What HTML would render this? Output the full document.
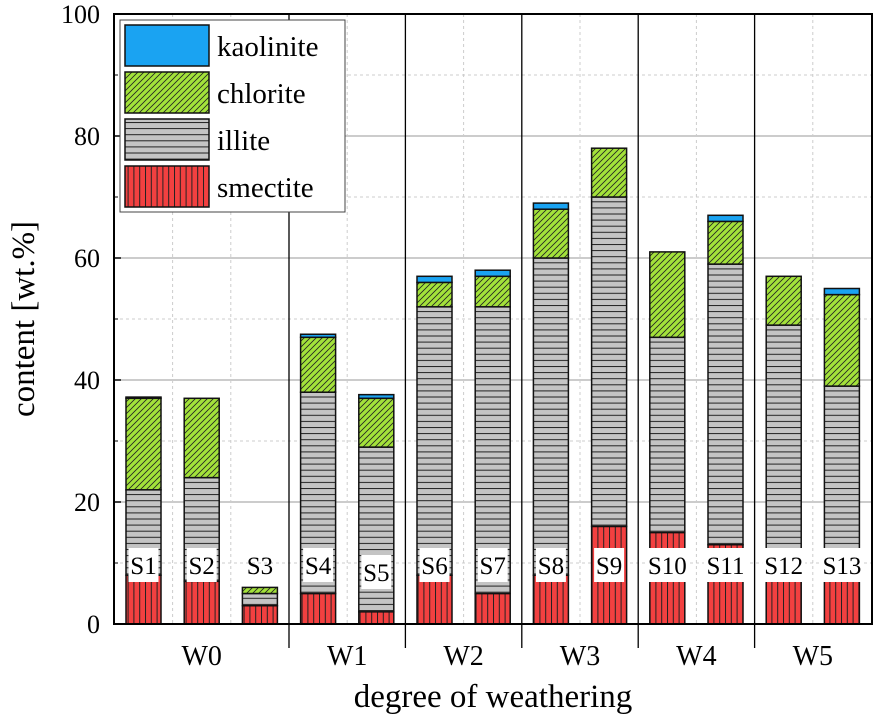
<!DOCTYPE html>
<html><head><meta charset="utf-8"><style>
html,body{margin:0;padding:0;background:#fff;}
svg text{font-family:"Liberation Serif",serif;fill:#000;}
</style></head><body>
<svg id="c" width="873" height="720" xmlns="http://www.w3.org/2000/svg">
<defs>
<pattern id="pI" width="8" height="6.1" patternUnits="userSpaceOnUse"><rect width="8" height="6.1" fill="#c4c4c4"/><line x1="0" y1="0.5" x2="8" y2="0.5" stroke="#222" stroke-width="1"/></pattern>
<pattern id="pS" width="5.8" height="8" patternUnits="userSpaceOnUse"><rect width="5.8" height="8" fill="#f24040"/><line x1="0.5" y1="0" x2="0.5" y2="8" stroke="#222" stroke-width="1"/></pattern>
<pattern id="pC" width="6" height="6" patternUnits="userSpaceOnUse"><rect width="6" height="6" fill="#a3e23a"/><path d="M0,6 L6,0 M-1,1 L1,-1 M5,7 L7,5" stroke="#222" stroke-width="0.8"/></pattern>
</defs>
<g id="grid"></g><g id="bars"></g><g id="labels"></g><g id="axes"></g>
</svg>
<script>
const samples=["S1","S2","S3","S4","S5","S6","S7","S8","S9","S10","S11","S12","S13"];
const smectite=[8,7,3,5,2,8,5,8,16,15,13,12,12];
const illite=[14,17,2,33,27,44,47,52,54,32,46,37,27];
const chlorite=[15,13,1,9,8,4,5,8,8,14,7,8,15];
const kaolinite=[0.2,0,0,0.5,0.6,1,1,1,0,0,1,0,1];
const groups=["W0","W1","W2","W3","W4","W5"];
const groupCounts=[3,2,2,2,2,2];
const yTicks=[0,20,40,60,80,100];
const labelOffsets=[0,0,0,0,7,0,0,0,0,0,0,0,0];

const svg=document.getElementById('c');
const NS="http://www.w3.org/2000/svg";
const L=114,R=872,T=14,B=624;
const y=v=>B-(v/100)*(B-T);
const xc=i=>143.5+i*58.2;
const BW=35;
function mk(tag,attrs,parent,name,txt){const e=document.createElementNS(NS,tag);for(const k in attrs)e.setAttribute(k,attrs[k]);


if(txt!==undefined)e.textContent=txt;document.getElementById(parent).appendChild(e);return e;}

for(let v=10;v<100;v+=10){
 const major=v%20===0;
 mk('line',{x1:L,x2:R,y1:y(v),y2:y(v),stroke:major?'#999':'#ccc','stroke-width':1,'stroke-dasharray':major?'':'3,3'},'grid','gridline-y');
}
let idx=0;const seps=[];
groupCounts.forEach((n,g)=>{for(let k=0;k<n-1;k++){const xm=(xc(idx+k)+xc(idx+k+1))/2;
 mk('line',{x1:xm,x2:xm,y1:T,y2:B,stroke:'#ccc','stroke-width':1,'stroke-dasharray':'3,3'},'grid','gridline-x');}
 idx+=n; if(g<groupCounts.length-1) seps.push((xc(idx-1)+xc(idx))/2);});
seps.forEach(s=>{mk('line',{x1:s,x2:s,y1:T,y2:648,stroke:'#000','stroke-width':1.3},'grid','group-separator');});

samples.forEach((s,i)=>{
 let base=0;const x=xc(i)-BW/2;
 [[smectite,'url(#pS)','smectite'],[illite,'url(#pI)','illite'],[chlorite,'url(#pC)','chlorite'],[kaolinite,'#1aa3f2','kaolinite']].forEach(([arr,fill,nm])=>{
  const v=arr[i];if(v<=0)return;
  mk('rect',{x:x,y:y(base+v),width:BW,height:y(base)-y(base+v),fill:fill,stroke:'#111','stroke-width':1.5},'bars','bar-'+nm+'-'+s.toLowerCase());
  base+=v;});
 const ly=565+labelOffsets[i];
 const w=s.length*13+4;
 if(s!=="S3") mk('rect',{x:xc(i)-w/2,y:ly-17,width:w,height:34,fill:'#fff'},'labels','label-bg-'+s.toLowerCase());
 mk('text',{x:xc(i),y:ly+9,'text-anchor':'middle','font-size':25},'labels','sample-label-'+s.toLowerCase(),s);
});

mk('rect',{x:L,y:T,width:R-L,height:B-T,fill:'none',stroke:'#000','stroke-width':2},'axes','plot-frame');
yTicks.forEach(v=>{
 mk('line',{x1:L,x2:L+7,y1:y(v),y2:y(v),stroke:'#000','stroke-width':1.5},'axes','y-tick');
 mk('text',{x:100,y:y(v)+9,'text-anchor':'end','font-size':26},'axes','y-tick-label',String(v));
});
for(let v=10;v<100;v+=20) mk('line',{x1:L,x2:L+4,y1:y(v),y2:y(v),stroke:'#000','stroke-width':1},'axes','y-minor-tick');
idx=0;groups.forEach((g,k)=>{const n=groupCounts[k];const cx=(xc(idx)+xc(idx+n-1))/2;idx+=n;
 mk('text',{x:cx,y:665,'text-anchor':'middle','font-size':28},'axes','x-group-label',g);});
mk('text',{x:493,y:707,'text-anchor':'middle','font-size':33},'axes','x-axis-title','degree of weathering');
mk('text',{x:0,y:0,'text-anchor':'middle','font-size':33,transform:'translate(34,319) rotate(-90)'},'axes','y-axis-title','content [wt.%]');

mk('rect',{x:120,y:20,width:225,height:192,fill:'#fff',stroke:'#444','stroke-width':1},'axes','legend-box');
[['#1aa3f2','kaolinite'],['url(#pC)','chlorite'],['url(#pI)','illite'],['url(#pS)','smectite']].forEach(([f,n],k)=>{
 const yy=25+k*47;
 mk('rect',{x:125,y:yy,width:84,height:41,fill:f,stroke:'#111','stroke-width':1.5},'axes','legend-swatch-'+n);
 mk('text',{x:217,y:yy+31,'font-size':29},'axes','legend-label-'+n,n);
});
</script>
</body></html>
